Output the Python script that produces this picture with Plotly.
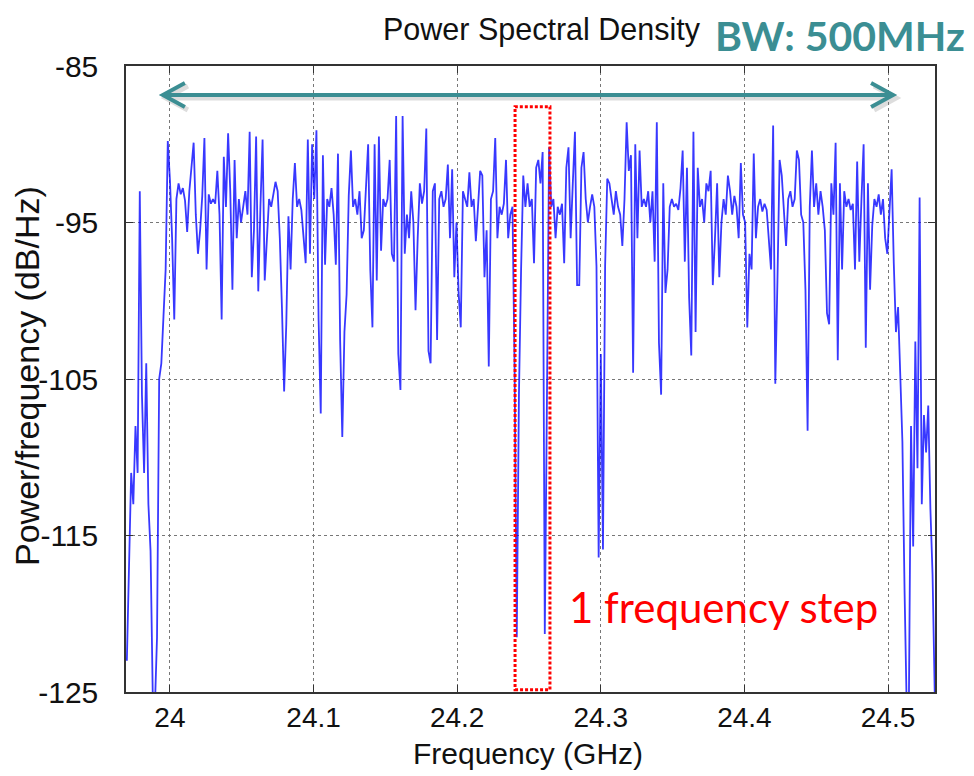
import plotly.graph_objects as go

# ---- data ----
F_START = 23.970   # GHz, first sample
F_STEP = 0.0015    # GHz, sample spacing

psd = [
    -123, -117, -111, -113, -108, -111, -93, -106, -111, -104,
    -113, -116, -125, -126, -121.5, -105, -104, -101, -98, -89.8,
    -92.3, -96, -101.2, -93.5, -92.5, -93.2, -92.8, -93.6, -95.6, -93,
    -91.2, -89.9, -94.5, -97, -95.5, -93.3, -89.6, -98, -93.2, -93.8,
    -93.5, -93.8, -91.7, -94.5, -101.2, -90.8, -94, -89.3, -93, -99.3,
    -91, -96, -93.5, -95, -94, -93, -94.5, -89.2, -98.5, -95.5,
    -89.5, -99.4, -94, -89.7, -98.7, -96, -93.5, -94, -93.2, -92.4,
    -93, -96, -100.5, -105.8, -101.5, -94.6, -98, -93.5, -91.2, -94,
    -93.5, -94.2, -95.9, -97.6, -89.7, -97, -90, -93.5, -89.1, -101.2,
    -107.2, -90.7, -97.7, -93.5, -94, -92.8, -94.5, -97.7, -90.6, -102.5,
    -108.7, -102, -99.6, -93.3, -90.4, -94, -93.5, -94.5, -93, -96,
    -95.5, -93, -90, -98, -101.7, -90, -98.7, -89.5, -96.8, -93.5,
    -94, -93.5, -91, -97, -97.5, -88.2, -103.4, -105.7, -88.2, -97,
    -94.5, -96, -93, -95, -100.6, -96, -92.5, -93.8, -93, -89,
    -103.2, -104, -93, -92.5, -102.5, -93.5, -93, -94, -93.5, -91.3,
    -96, -91.6, -98.5, -95, -99.5, -101.7, -93, -93.5, -94, -91.8,
    -94, -93.5, -96.2, -94, -91.7, -92, -98.5, -95.5, -104.2, -93.5,
    -93, -89.6, -96, -94, -94.5, -93.8, -91, -96, -94.5, -94,
    -104.5, -121.5, -106, -98, -92, -94, -92.5, -94, -93.5, -97.6,
    -91.5, -91, -92.5, -90.5, -121.3, -106.3, -90.2, -94, -93.5, -96,
    -94, -94.5, -93.8, -97.6, -91.5, -90.2, -96, -92.5, -89.2, -99,
    -99, -91.5, -90.5, -93.5, -95, -94, -93.2, -94, -97.8, -116.4,
    -103.4, -115.9, -97.8, -92.2, -92.5, -93.5, -94.5, -93, -94, -94.5,
    -96.5, -93.5, -88.6, -91.7, -90.7, -104.6, -90, -96, -90.4, -94,
    -93.5, -94, -93, -95, -93, -97.5, -88.6, -102.7, -106, -92.5,
    -99.5, -98, -94, -93.5, -94, -93.8, -94.2, -92.8, -90.4, -97.5,
    -91.5, -99.8, -103.5, -89.2, -102, -91.5, -94, -93.5, -95, -92.5,
    -93, -91.7, -99, -96, -92.5, -98.5, -95, -93.5, -94.5, -92,
    -93, -94.5, -93.3, -94, -96, -91.2, -94.5, -95, -101.7, -97,
    -98, -90.6, -96, -94, -93.5, -94.3, -93.8, -94.2, -96, -98,
    -88.8, -105.3, -98.7, -91, -92, -94.5, -96.5, -93.5, -93, -94,
    -93.5, -90.4, -91, -94.5, -95, -99.3, -108.3, -94, -90.4, -94,
    -92.5, -94.5, -93, -94, -95.5, -100.8, -101.5, -92.5, -94.5, -89.9,
    -103.8, -92.5, -98, -93, -94, -93.5, -94.2, -93.8, -98, -91.1,
    -97.5, -93.5, -90, -103, -92.5, -99.3, -95.2, -93.5, -94, -93.2,
    -94.5, -93.5, -96, -97, -93.8, -91.6, -97.6, -102, -100.4, -105.5,
    -109, -118.5, -126, -126, -108, -115.7, -102.6, -110.7, -93.4, -113,
    -107.3, -109.7, -106.7, -113.3, -117.5, -125,
]
freq = [round(F_START + F_STEP * i, 5) for i in range(len(psd))]

x_ticks = [24, 24.1, 24.2, 24.3, 24.4, 24.5]
x_tick_labels = ["24", "24.1", "24.2", "24.3", "24.4", "24.5"]
y_ticks = [-125, -115, -105, -95, -85]
y_tick_labels = ["-125", "-115", "-105", "-95", "-85"]

x_range = [23.9694, 24.5327]
y_range = [-125, -85]

# annotation geometry (data units)
bw_arrow = [23.9951, 24.5035]   # extent of the BW arrow
bw_arrow_y = -86.85
step_box_x = [24.2403, 24.2646]
step_box_y = [-124.85, -87.6]

TEAL = "#3B8E93"
FONT = "Arial, Liberation Sans, sans-serif"

fig = go.Figure()
fig.add_trace(go.Scatter(
    x=freq, y=psd, mode="lines",
    line=dict(color="rgba(0,0,255,0.78)", width=1.8),
    hoverinfo="skip", showlegend=False,
))

shapes = []
# red dotted "1 frequency step" box
shapes.append(dict(type="rect", xref="x", yref="y",
                   x0=step_box_x[0], x1=step_box_x[1], y0=step_box_y[0], y1=step_box_y[1],
                   line=dict(color="#FF0000", width=3, dash="3px,2px")))

# BW double arrow (with soft shadow)
px_x = (x_range[1] - x_range[0]) / 809.0
px_y = (y_range[1] - y_range[0]) / 626.0
hx, hy = 22 * px_x, 12 * px_y
for dx, dy, col, w in [(3 * px_x, -3 * px_y, "rgba(120,120,120,0.25)", 5), (0, 0, TEAL, 4)]:
    a0, a1, yy = bw_arrow[0] + dx, bw_arrow[1] + dx, bw_arrow_y + dy
    path = (f"M {a0},{yy} L {a1},{yy} "
            f"M {a0 + hx},{yy + hy} L {a0},{yy} L {a0 + hx},{yy - hy} "
            f"M {a1 - hx},{yy + hy} L {a1},{yy} L {a1 - hx},{yy - hy}")
    shapes.append(dict(type="path", xref="x", yref="y", path=path,
                       line=dict(color=col, width=w)))

annotations = [
    dict(text="Power Spectral Density", xref="paper", yref="paper", x=(542 - 126) / 809, y=(692 - 30) / 626,
         showarrow=False, font=dict(family=FONT, size=30.5, color="#111"), xanchor="center", yanchor="middle"),
    dict(text="<b>BW: 500MHz</b>", xref="paper", yref="paper", x=(713 - 126) / 809, y=(692 - 36) / 626,
         showarrow=False, font=dict(family="Lato, Open Sans, sans-serif", size=41, color=TEAL),
         xanchor="left", yanchor="middle"),
    dict(text="1 frequency step", xref="paper", yref="paper", x=(567 - 126) / 809, y=(692 - 607) / 626,
         showarrow=False, font=dict(family="Lato, Open Sans, sans-serif", size=42, color="#FF0000"),
         xanchor="left", yanchor="middle"),
    dict(text="Frequency (GHz)", xref="paper", yref="paper", x=(528 - 126) / 809, y=(692 - 753) / 626,
         showarrow=False, font=dict(family=FONT, size=30, color="#111"), xanchor="center", yanchor="middle"),
    dict(text="Power/frequency (dB/Hz)", xref="paper", yref="paper", x=(27 - 126) / 809, y=(692 - 376) / 626,
         showarrow=False, textangle=-90, font=dict(family=FONT, size=34, color="#111"),
         xanchor="center", yanchor="middle"),
]

fig.update_layout(
    width=974, height=776,
    margin=dict(l=126, r=39, t=66, b=84),
    paper_bgcolor="white", plot_bgcolor="white",
    shapes=shapes, annotations=annotations,
    showlegend=False,
)
axis_common = dict(
    showline=True, linecolor="#333", linewidth=1.5, mirror="ticks",
    ticks="inside", ticklen=7, tickwidth=1.2, tickcolor="#333",
    showgrid=True, gridcolor="#777", griddash="dot", gridwidth=1,
    zeroline=False, tickfont=dict(family=FONT, size=30, color="#111"),
)
fig.update_xaxes(range=x_range, tickvals=x_ticks, ticktext=x_tick_labels,
                 ticklabelstandoff=0, **axis_common)
fig.update_xaxes(tickfont=dict(size=28))
fig.update_yaxes(range=y_range, tickvals=y_ticks, ticktext=y_tick_labels,
                 ticklabelstandoff=20, **axis_common)

fig.write_html("out.html")
